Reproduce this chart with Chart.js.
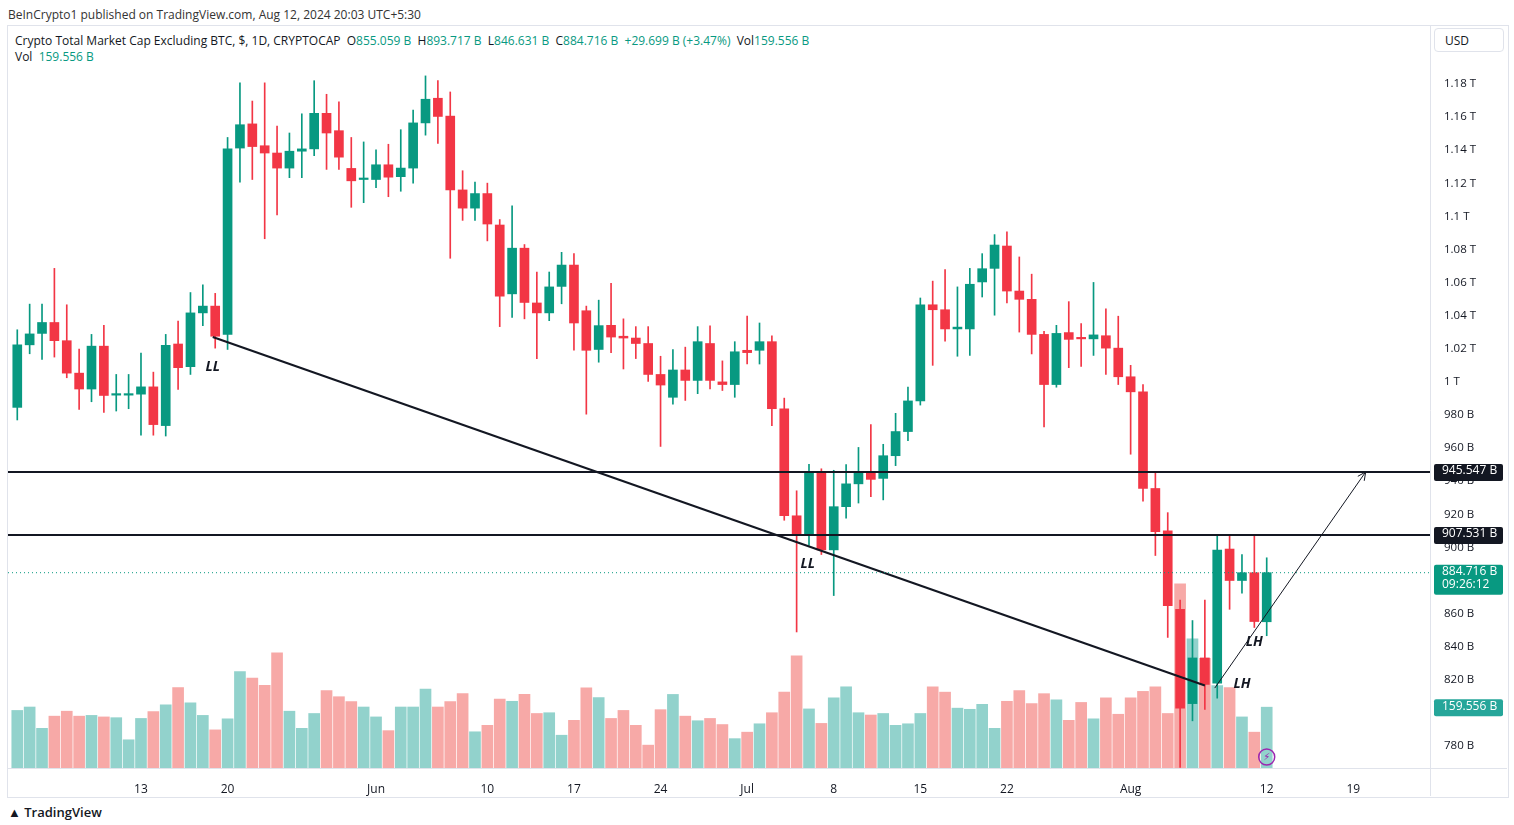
<!DOCTYPE html>
<html>
<head>
<meta charset="utf-8">
<script src="https://cdn.jsdelivr.net/npm/chart.js@4.4.1/dist/chart.umd.min.js"></script>
<style>
    body { margin: 0; background: #fff; font-family: "Open Sans", "Noto Sans", sans-serif; color: #131722; }
    #wrap { position: absolute; left: 0; top: 0; width: 1514px; height: 825px; }
    #frame { position: absolute; left: 7px; top: 25px; width: 1500px; height: 771px; border: 1px solid #e0e3eb; }
    .txt { position: absolute; white-space: nowrap; font-size: 12px; }
    .g { color: #089981; }
    #usd { position: absolute; left: 1434px; top: 28px; width: 70px; height: 24px; border: 1px solid #e0e3eb; border-radius: 4px; font-size: 12px; line-height: 24px; padding-left: 10px; box-sizing: border-box; }
    canvas { position: absolute; left: 0; top: 0; }
</style>
</head>
<body>
<div id="wrap">
    <div id="frame"></div>
    <div class="txt" style="left:8px;top:6px;color:#333;">BeInCrypto1 published on TradingView.com, Aug 12, 2024 20:03 UTC+5:30</div>
    <div class="txt" style="left:15px;top:32px;">Crypto Total Market Cap Excluding BTC, $, 1D, CRYPTOCAP&nbsp;&nbsp;O<span class="g">855.059 B</span>&nbsp; H<span class="g">893.717 B</span>&nbsp; L<span class="g">846.631 B</span>&nbsp; C<span class="g">884.716 B</span>&nbsp; <span class="g">+29.699 B (+3.47%)</span>&nbsp; Vol<span class="g">159.556 B</span></div>
    <div class="txt" style="left:15px;top:48px;">Vol&nbsp; <span class="g">159.556 B</span></div>
    <div id="usd">USD</div>
    <div class="txt" style="left:8px;top:803px;font-size:13px;font-weight:600;">&#9650; TradingView</div>
    <canvas id="c" width="1514" height="825"></canvas>
</div>
<script>
    // candles May 3 .. Aug 12 2024 (index = day offset from May 3), prices in B
    const open = [984.6,1022.4,1029.3,1035.9,1024.9,1005.3,995.7,1021.6,992,992,
        992.6,997,973.6,1022.9,1009.2,1041.7,1045.8,1028.7,1141.3,1155.9,
        1142.7,1138.3,1129.2,1139.4,1140.8,1162.3,1151.8,1129,1122.3,1122.3,
        1131.2,1124,1129.2,1156.5,1171.4,1160.6,1116,1105,1113.8,1094.8,
        1053.2,1080.8,1047.7,1041.7,1057.7,1070.6,1043,1019.6,1034.2,1027.6,
        1026.5,1023.2,1004.5,990.7,1007.2,1000.9,1023.2,1000,998.4,1019.1,
        1019.1,1024.3,983.8,919.1,908.1,945.3,898.5,924.6,938.4,945.8,
        941.7,955.4,970,988.5,1046.6,1043.6,1032,1032,1060.4,1068.6,
        1082.1,1054.9,1049.9,1028.7,998.4,1029.8,1026.5,1026,1027.9,1020.4,
        1003.1,994,935.6,910,862.6,805.6,833.2,818,899,880,
        884.7,855.06];
    const close = [1022.4,1029,1035.9,1024.9,1005.3,995.7,1021.6,991.8,992.2,992.8,
        997,974.2,1022.1,1008.6,1041.7,1045.8,1027.6,1140.8,1155.4,1142.2,
        1138.3,1129.2,1139.4,1140.8,1162.3,1150.4,1135.8,1121.5,1122.8,1131.2,
        1123.7,1129.2,1156.5,1170.8,1160.4,1116,1105,1113.8,1095.4,1051.8,
        1080.8,1048,1041.7,1057.4,1070.6,1035.6,1019.1,1034,1027.1,1026.5,
        1023.2,1004.5,998.1,1007.2,1000.9,1024.3,1000.9,998.4,1018.2,1017.7,
        1024.3,983.8,919.1,908.1,945.3,898.5,924.6,938.4,945.3,941.1,
        955.4,970,988.5,1046.6,1043.6,1032,1033.1,1059,1068.4,1082.7,
        1054.9,1049.9,1028.7,998.4,1029.3,1025.7,1026,1028.4,1020.4,1003.1,
        994,935.6,909.5,864.8,802.9,833.2,817.2,898.4,880,884.7,
        855.2,884.72];
    const high = [1031.5,1047,1047,1068.6,1046.6,1019.9,1028.7,1034.2,1004.5,1004.5,
        1017.4,1005.9,1028.7,1036.7,1054,1058.7,1053.5,1147.7,1180.7,1169.7,
        1180.7,1154.6,1150.4,1162,1182,1173.8,1169.2,1147.7,1145,1140.2,
        1143.6,1152.4,1164.2,1184.9,1182.1,1175.2,1127.6,1120.7,1120.1,1098.1,
        1106.4,1083,1066.4,1066.4,1078.3,1077.5,1045.8,1049.4,1059.6,1038.1,
        1033.4,1033.4,1015.5,1019.6,1021,1033.4,1033.9,1012.7,1024.3,1039.7,
        1035.6,1027.9,990.2,934.2,950.2,947.5,946.6,950,960.4,974.2,
        962.3,981,996.8,1050.7,1060.9,1067.8,1057.4,1068.6,1077.5,1089,
        1090.7,1075.5,1065.1,1030.6,1034.2,1048.5,1035.3,1060.1,1044.1,1039.7,
        1010,998.4,945.3,921,868.2,855.8,868.2,906.7,906.7,895.7,
        906.7,893.72];
    const low = [977,1017,1013.6,1015,1002.5,983.3,988,981.6,982.4,983.8,
        967.8,967.8,967.3,995.4,1004.5,1034,1020.4,1019.6,1120.7,1122.3,
        1086.5,1100.9,1123.4,1123.4,1136.7,1128.4,1128.4,1105.5,1108.3,1117.4,
        1111.9,1115.2,1120.1,1149.1,1144.1,1074.7,1097.6,1097.6,1085.2,1033.4,
        1038.9,1038.1,1014.1,1037,1047.2,1019.1,980.5,1011.9,1017.7,1007.8,
        1014.1,1000.3,961,986.6,988.8,992.9,995.7,994.8,990.7,1010.8,
        1010.8,973.6,916.4,848.9,901.2,895.7,870.9,917.7,926.8,930.7,
        928.7,949.4,964.5,986,1010,1024.6,1015.5,1016,1051.3,1040.3,
        1047.7,1030.1,1016.9,972.8,996.8,1008.6,1009.4,1016,1004.5,998.4,
        956.3,927.9,895.1,845.6,767,795.2,802.1,808.9,862.6,872.3,
        851.6,846.63];
    const volume = [151,160,104,136,149,136,138,134,132,74,
        130,148,166,211,171,138,100,129,253,236,
        217,302,149,104,143,203,187,174,160,134,
        98,160,160,207,160,174,195,95,112,181,
        175,193,143,145,86,125,210,185,130,151,
        112,60,153,193,136,124,130,114,77,94,
        116,145,199,294,155,117,184,213,145,139,
        143,112,116,143,213,199,157,154,167,104,
        175,203,169,195,179,125,172,129,184,141,
        184,201,213,143,483,339,288,216,211,134,
        94,159.556];

    // time axis ticks (day index -> label)
    const tickIdx = [10, 17, 29, 38, 45, 52, 59, 66, 73, 80, 90, 101, 108];
    const tickText = ["13", "20", "Jun", "10", "17", "24", "Jul", "8", "15", "22", "Aug", "12", "19"];
    const priceTicks = [780,800,820,840,860,880,900,920,940,960,980,1000,1020,1040,1060,1080,1100,1120,1140,1160,1180];

    const levels = [945.547, 907.531];
    const lastPrice = 884.716;
    const lastVol = 159.556;
    // drawn lines: [idx, price]
    const trendLine = [[15.8, 1027.1], [96.0, 816.5]];
    const arrowLine = [[96.8, 815], [109.0, 945.6]];
    const marks = [["LL", 15.8, 1009], ["LL", 63.9, 890], ["LH", 100.0, 843], ["LH", 99.0, 817.6]];

    const X_MIN = -0.75, X_MAX = 114.2;
    const UP = "#089981", DOWN = "#f23645";
    const UP_V = "#92d2cc", DOWN_V = "#f7a9a7";

    const isUp = close.map((c, i) => c >= open[i]);

    function fmtPrice(v) {
        if (v >= 1000) return (v / 1000).toString() + " T";
        return v + " B";
    }

    function tagBox(ctx, y, lines, bg) {
        const x = 1434, w = 69, lh = 13;
        const h = lines.length * lh + 4;
        ctx.fillStyle = bg;
        ctx.beginPath();
        ctx.roundRect(x, y - 8, w, h, 2);
        ctx.fill();
        ctx.fillStyle = "#fff";
        ctx.font = "12px 'Open Sans'";
        ctx.textBaseline = "middle";
        ctx.textAlign = "left";
        lines.forEach((t, k) => ctx.fillText(t, x + 8, y + k * lh - 1));
    }

    const overlay = {
        id: "overlay",
        afterDraw(chart) {
            const ctx = chart.ctx, xs = chart.scales.x, ys = chart.scales.y;
            ctx.save();
            // separators
            ctx.strokeStyle = "#e0e3eb";
            ctx.lineWidth = 1;
            ctx.beginPath();
            ctx.moveTo(chart.chartArea.right + 0.5, 25);
            ctx.lineTo(chart.chartArea.right + 0.5, chart.chartArea.bottom + 28);
            ctx.moveTo(8, chart.chartArea.bottom + 0.5);
            ctx.lineTo(1507, chart.chartArea.bottom + 0.5);
            ctx.stroke();

            // arrow head
            const a = arrowLine;
            const x1 = xs.getPixelForValue(a[0][0]), y1 = ys.getPixelForValue(a[0][1]);
            const x2 = xs.getPixelForValue(a[1][0]), y2 = ys.getPixelForValue(a[1][1]);
            const ang = Math.atan2(y2 - y1, x2 - x1);
            ctx.strokeStyle = "#131722";
            ctx.lineWidth = 1;
            ctx.beginPath();
            ctx.moveTo(x2 - 9 * Math.cos(ang - 0.45), y2 - 9 * Math.sin(ang - 0.45));
            ctx.lineTo(x2, y2);
            ctx.lineTo(x2 - 9 * Math.cos(ang + 0.45), y2 - 9 * Math.sin(ang + 0.45));
            ctx.stroke();

            // LL / LH marks
            ctx.fillStyle = "#131722";
            ctx.font = "italic bold 14px 'Open Sans'";
            ctx.textAlign = "center";
            ctx.textBaseline = "middle";
            marks.forEach((m) => ctx.fillText(m[0], xs.getPixelForValue(m[1]), ys.getPixelForValue(m[2])));

            // purple icon
            ctx.strokeStyle = "#9c27b0";
            ctx.lineWidth = 1.5;
            ctx.beginPath();
            ctx.arc(xs.getPixelForValue(101), 757, 8, 0, Math.PI * 2);
            ctx.stroke();
            ctx.font = "10px 'DejaVu Sans'";
            ctx.fillStyle = "#9c27b0";
            ctx.fillText("⚡", xs.getPixelForValue(101), 757);

            // axis tags
            tagBox(ctx, ys.getPixelForValue(levels[0]), [levels[0] + " B"], "#131722");
            tagBox(ctx, ys.getPixelForValue(levels[1]), [levels[1] + " B"], "#131722");
            tagBox(ctx, ys.getPixelForValue(lastPrice), [lastPrice + " B", "09:26:12"], UP);
            const vy = chart.scales.vol.getPixelForValue(lastVol);
            tagBox(ctx, vy, [lastVol + " B"], "#26a69a");
            ctx.restore();
        },
    };

    const hLine = (p, color, width, dash) => ({
        type: "line",
        data: [{ x: X_MIN, y: p }, { x: X_MAX, y: p }],
        borderColor: color, borderWidth: width, borderDash: dash || [],
        pointRadius: 0, order: 0,
    });
    const segLine = (pts, width) => ({
        type: "line",
        data: pts.map((p) => ({ x: p[0], y: p[1] })),
        borderColor: "#131722", borderWidth: width, pointRadius: 0, order: 0,
    });

    new Chart(document.getElementById("c"), {
        type: "bar",
        data: {
            datasets: [
                {
                    data: volume.map((v, i) => ({ x: i, y: v })),
                    yAxisID: "vol",
                    backgroundColor: isUp.map((u) => (u ? UP_V : DOWN_V)),
                    barThickness: 11, order: 3,
                },
                {
                    data: high.map((h, i) => ({ x: i, y: [low[i], h] })),
                    backgroundColor: isUp.map((u) => (u ? UP : DOWN)),
                    barThickness: 1, order: 2,
                },
                {
                    data: open.map((o, i) => ({ x: i, y: [o, close[i]] })),
                    backgroundColor: isUp.map((u) => (u ? UP : DOWN)),
                    barThickness: 9, minBarLength: 1.5, order: 1,
                },
                hLine(levels[0], "#131722", 2),
                hLine(levels[1], "#131722", 2),
                hLine(lastPrice, UP, 1, [1, 3]),
                segLine(trendLine, 2.2),
                segLine(arrowLine, 1),
            ],
        },
        options: {
            responsive: false,
            animation: false,
            grouped: false,
            layout: { padding: { left: 8, top: 62, right: 6, bottom: 29 } },
            plugins: { legend: { display: false }, tooltip: { enabled: false } },
            scales: {
                x: {
                    type: "linear", min: X_MIN, max: X_MAX, offset: false,
                    grid: { display: false, offset: false }, border: { display: false },
                    afterBuildTicks: (s) => { s.ticks = tickIdx.map((v) => ({ value: v })); },
                    afterFit: (s) => { s.height = 28; },
                    ticks: {
                        color: "#131722", font: { size: 12, family: "Open Sans" }, padding: 6,
                        maxRotation: 0, autoSkip: false,
                        callback: (v) => tickText[tickIdx.indexOf(v)],
                    },
                },
                y: {
                    position: "right", min: 766.7, max: 1193.3,
                    grid: { display: false }, border: { display: false },
                    afterBuildTicks: (s) => { s.ticks = priceTicks.map((v) => ({ value: v })); },
                    afterFit: (s) => { s.width = 78; },
                    ticks: {
                        color: "#131722", font: { size: 11.5, family: "Open Sans" }, padding: 6,
                        callback: (v) => fmtPrice(v),
                    },
                },
                vol: {
                    display: false, min: 0, max: 1852,
                },
            },
        },
        plugins: [overlay],
    });
</script>
</body>
</html>
